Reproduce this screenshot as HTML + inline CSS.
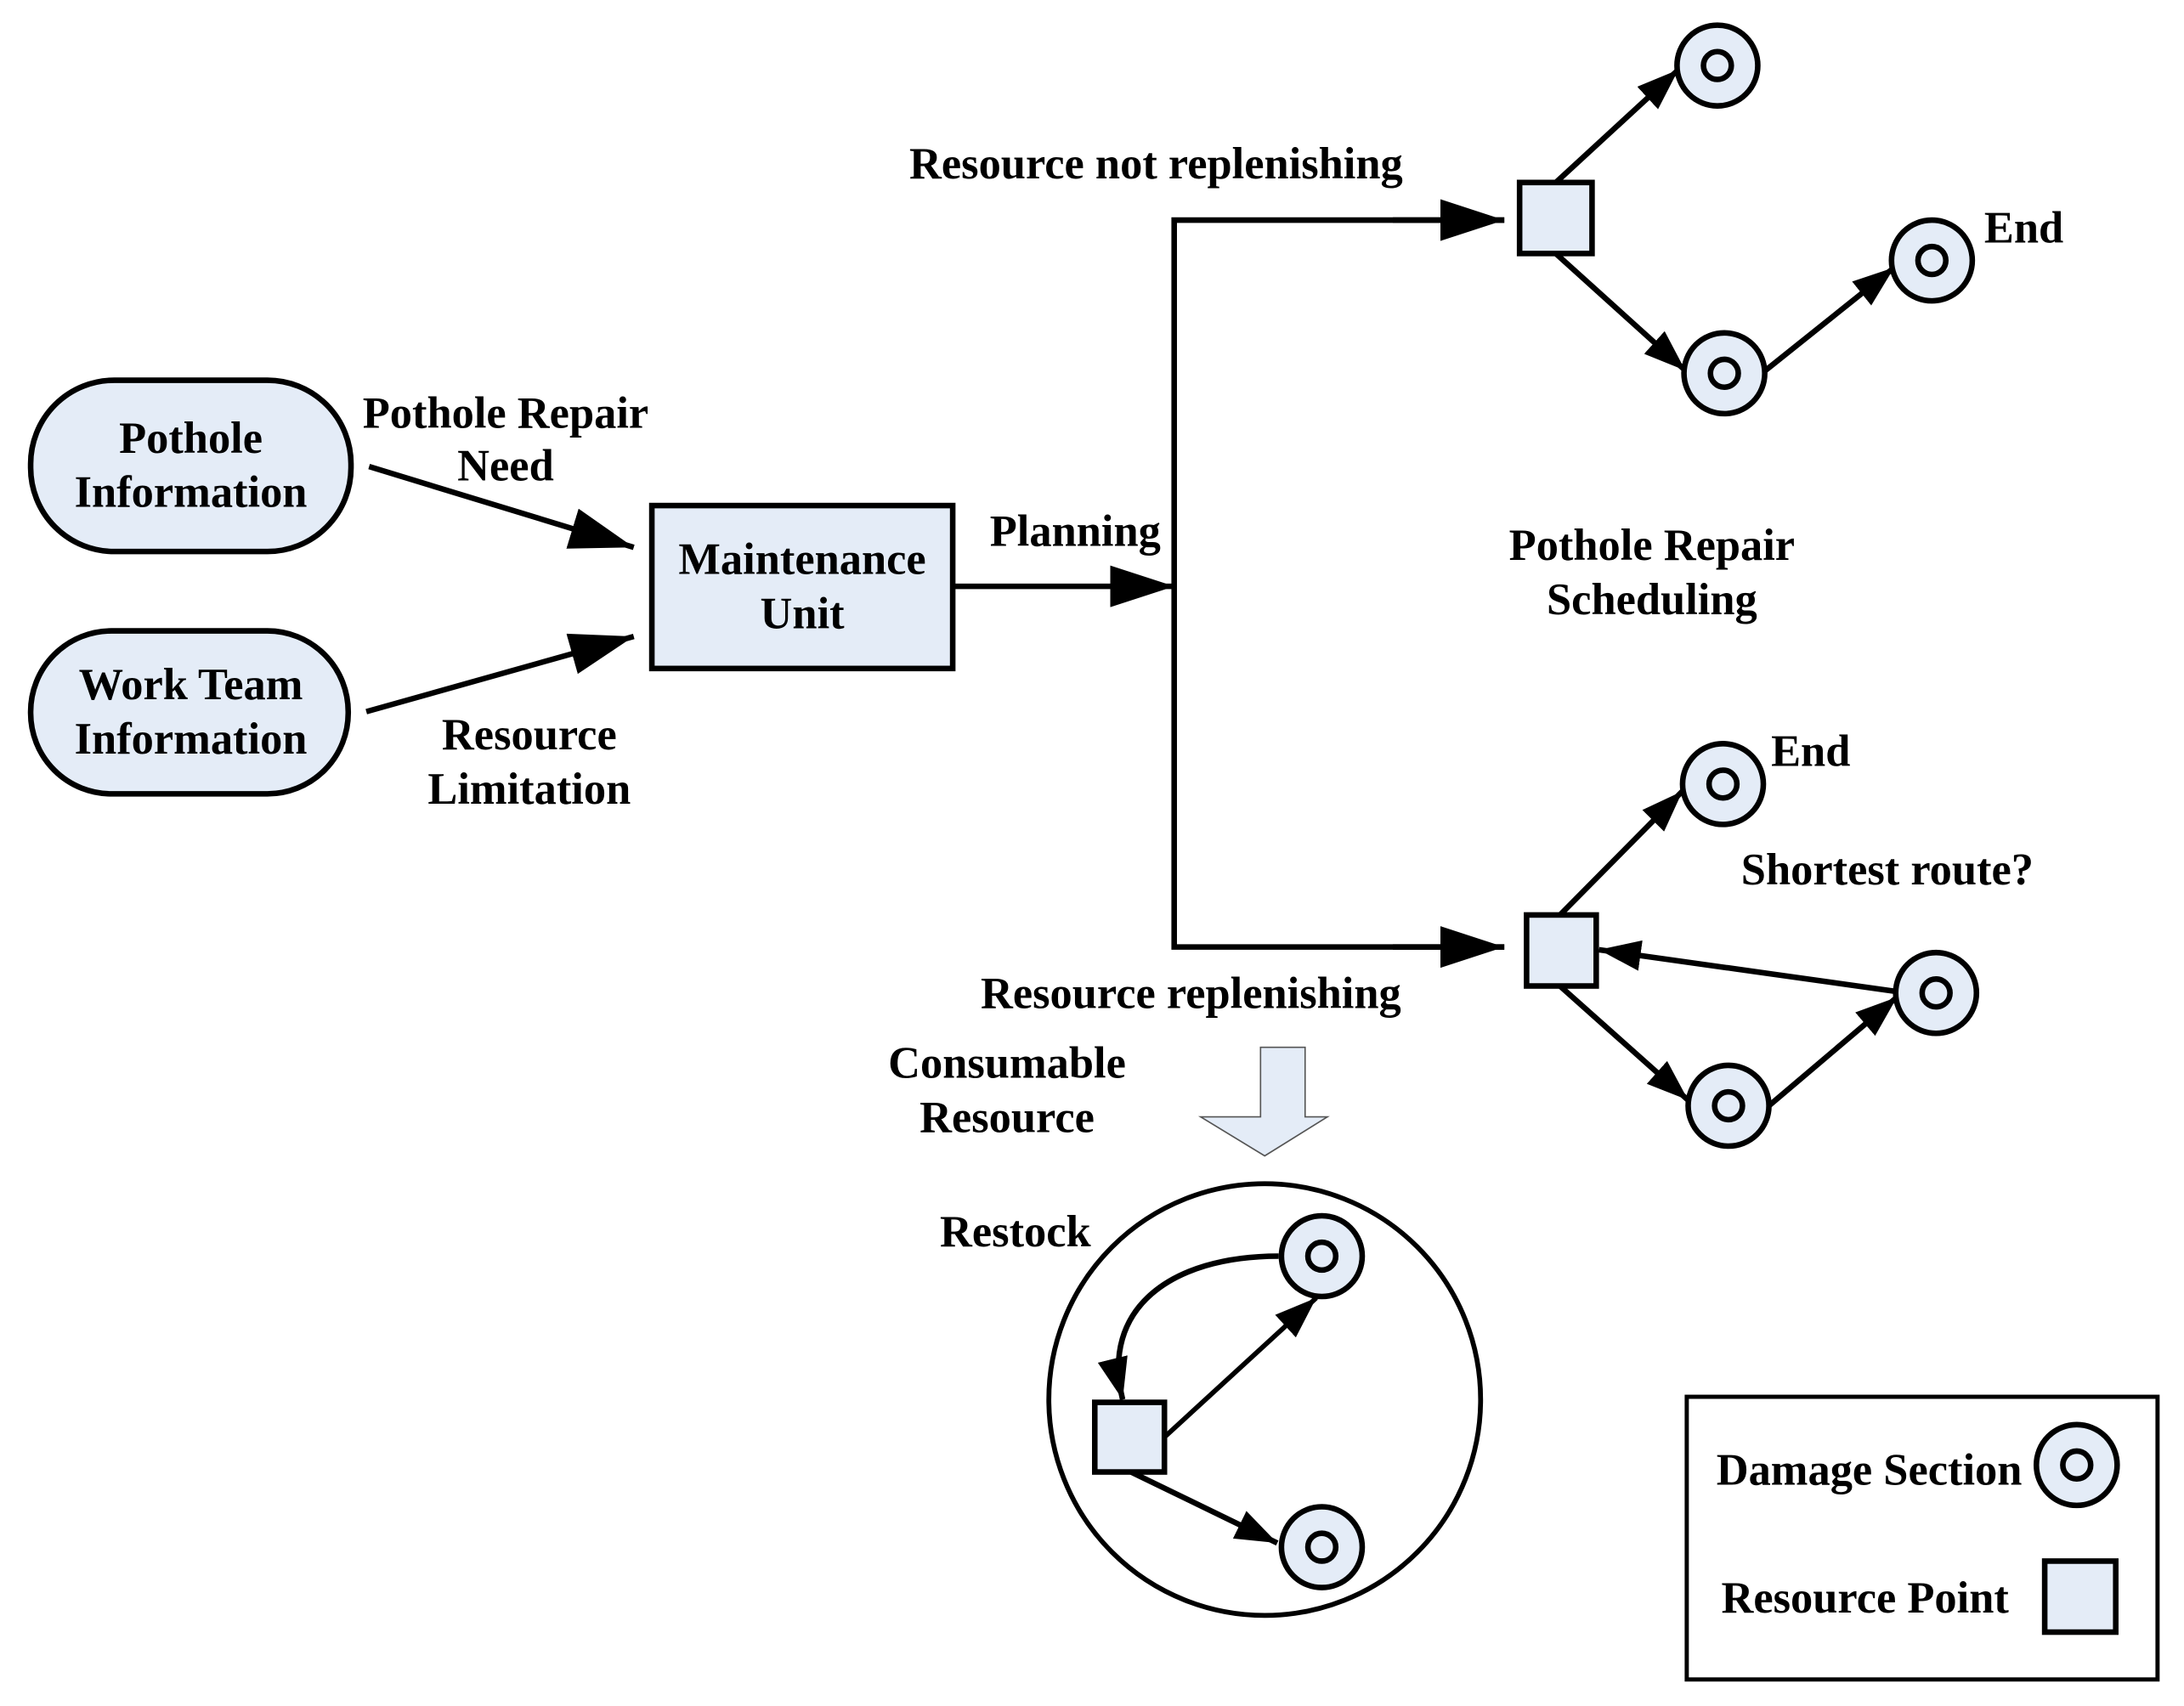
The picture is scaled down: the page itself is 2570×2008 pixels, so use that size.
<!DOCTYPE html>
<html><head><style>html,body{margin:0;padding:0;background:#fff}svg{display:block}</style></head>
<body>
<svg width="2570" height="2008" viewBox="0 0 1568 1225" xmlns="http://www.w3.org/2000/svg" font-family="Liberation Serif, serif" font-weight="bold" font-size="32" text-anchor="middle">
<defs>
<marker id="b" markerWidth="46" markerHeight="30" refX="46" refY="15" orient="auto" markerUnits="userSpaceOnUse"><path d="M0,0 L46,15 L0,30 z" fill="#000"/></marker>
<marker id="c" markerWidth="30" markerHeight="22" refX="30" refY="11" orient="auto" markerUnits="userSpaceOnUse"><path d="M0,0 L30,11 L0,22 z" fill="#000"/></marker>
<g id="ds"><circle r="29" fill="#e4ecf7" stroke="#000" stroke-width="4"/><circle r="10" fill="#e4ecf7" stroke="#000" stroke-width="4"/></g>
</defs>
<g stroke="#000" stroke-width="4" fill="#e4ecf7">
<rect x="22" y="273" width="230" height="123" rx="60"/>
<rect x="22" y="453" width="228" height="117" rx="58"/>
<rect x="468" y="363" width="216" height="117"/>
</g>
<text x="137" y="325">Pothole</text><text x="137" y="364">Information</text>
<text x="137" y="502">Work Team</text><text x="137" y="541">Information</text>
<text x="576" y="412">Maintenance</text><text x="576" y="451">Unit</text>
<g stroke="#000" stroke-width="4" fill="none">
<line x1="265" y1="335" x2="455" y2="393" marker-end="url(#b)"/>
<line x1="263" y1="511" x2="455" y2="457" marker-end="url(#b)"/>
<line x1="685" y1="421" x2="843" y2="421" marker-end="url(#b)"/>
<polyline points="1080,158 843,158 843,680 1080,680"/>
<line x1="1000" y1="158" x2="1080" y2="158" marker-end="url(#b)"/>
<line x1="1000" y1="680" x2="1080" y2="680" marker-end="url(#b)"/>
<line x1="1117" y1="131" x2="1205" y2="50" marker-end="url(#c)"/>
<line x1="1117" y1="182" x2="1210" y2="266" marker-end="url(#c)"/>
<line x1="1265" y1="268" x2="1360" y2="192" marker-end="url(#c)"/>
<line x1="1120" y1="657" x2="1208" y2="568" marker-end="url(#c)"/>
<line x1="1362" y1="712" x2="1148" y2="682" marker-end="url(#c)"/>
<line x1="1120" y1="708" x2="1212" y2="790" marker-end="url(#c)"/>
<line x1="1270" y1="794" x2="1362" y2="716" marker-end="url(#c)"/>
<circle cx="908" cy="1005" r="155" stroke-width="3.5"/>
<line x1="836" y1="1032" x2="945" y2="932" stroke-width="3.5" marker-end="url(#c)"/>
<line x1="812" y1="1057" x2="917" y2="1108" marker-end="url(#c)"/>
<path d="M918,902 C840,902 790,940 806,1005" marker-end="url(#c)"/>
<rect x="1211" y="1003" width="338" height="203" stroke-width="3"/>
</g>
<g stroke="#000" stroke-width="4" fill="#e4ecf7">
<rect x="1091" y="131" width="52" height="51"/>
<rect x="1096" y="657" width="50" height="51"/>
<rect x="786" y="1007" width="50" height="50"/>
<rect x="1468" y="1121" width="51" height="51"/>
</g>
<use href="#ds" x="1233" y="47"/><use href="#ds" x="1238" y="268"/><use href="#ds" x="1387" y="187"/>
<use href="#ds" x="1237" y="563"/><use href="#ds" x="1390" y="713"/><use href="#ds" x="1241" y="794"/>
<use href="#ds" x="949" y="902"/><use href="#ds" x="949" y="1111"/><use href="#ds" x="1491" y="1052"/>
<path d="M905,752 L937,752 L937,802 L953,802 L908,830 L862,802 L905,802 z" fill="#e4ecf7" stroke="#555" stroke-width="1"/>
<text x="363" y="307">Pothole Repair</text><text x="363" y="345">Need</text>
<text x="380" y="538">Resource</text><text x="380" y="577">Limitation</text>
<text x="772" y="392">Planning</text>
<text x="830" y="128">Resource not replenishing</text>
<text x="855" y="724">Resource replenishing</text>
<text x="1453" y="174">End</text>
<text x="1300" y="550">End</text>
<text x="1186" y="402">Pothole Repair</text><text x="1186" y="441">Scheduling</text>
<text x="1355" y="635">Shortest route?</text>
<text x="723" y="774">Consumable</text><text x="723" y="813">Resource</text>
<text x="729" y="895">Restock</text>
<text x="1342" y="1066">Damage Section</text>
<text x="1339" y="1158">Resource Point</text>
</svg>
</body></html>
